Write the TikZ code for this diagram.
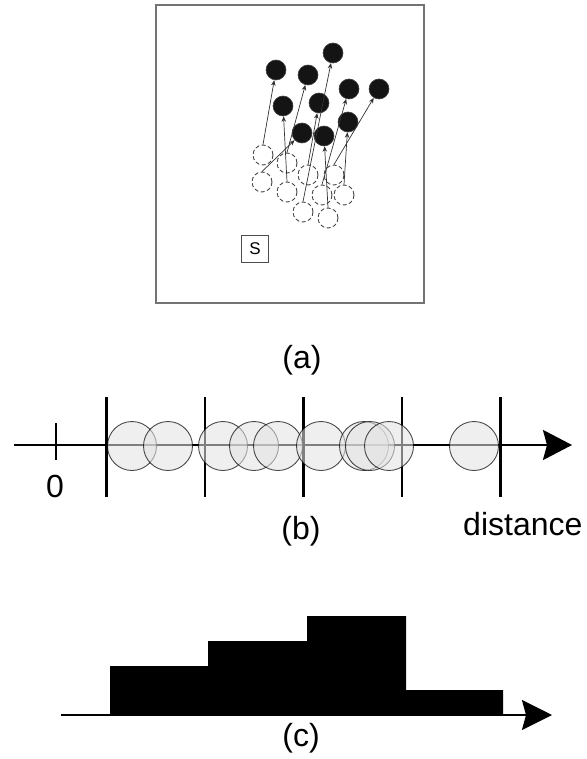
\documentclass[tikz,border=0pt]{standalone}
\usepackage{fontspec}
\setmainfont{Liberation Sans}
\usetikzlibrary{arrows.meta}
\begin{document}
\begin{tikzpicture}[x=1pt,y=-1pt,
  endpos/.style={circle,fill=black!92,draw=black!75,line width=0.6pt,minimum size=20pt,inner sep=0pt},
  startpos/.style={circle,draw=black!72,dash pattern=on 4pt off 2.5pt,line width=0.9pt,minimum size=20pt,inner sep=0pt},
  move/.style={-{Stealth[length=5.5pt,width=4.5pt]},line width=0.7pt,draw=black!80},
  bead/.style={circle,minimum size=49pt,inner sep=0pt,fill=black!11,fill opacity=0.56,draw=black,draw opacity=0.7,line width=0.9pt},
  axis/.style={line width=2.5pt,-{Stealth[length=29pt,width=30pt,inset=4pt]}},
  binline/.style={line width=2.5pt},
  lbl/.style={font=\fontsize{32}{38}\selectfont,inner sep=0pt,anchor=base},
]
\useasboundingbox (0,0) rectangle (586,759);

% ---------- (a) field of moving points ----------
\draw[black!55,line width=1.5pt] (156,5) rectangle (424,303);

\node[endpos] (e1) at (276,70) {};
\node[endpos] (e2) at (308,75) {};
\node[endpos] (e3) at (333,53) {};
\node[endpos] (e4) at (283,106) {};
\node[endpos] (e5) at (319,103) {};
\node[endpos] (e6) at (349,89) {};
\node[endpos] (e7) at (379,89) {};
\node[endpos] (e8) at (302,133) {};
\node[endpos] (e9) at (324,136) {};
\node[endpos] (e10) at (348,122) {};

\node[startpos] (sa) at (263,155) {};
\node[startpos] (sb) at (287,163) {};
\node[startpos] (sc) at (262,182) {};
\node[startpos] (sd) at (287,192) {};
\node[startpos] (se) at (308,175) {};
\node[startpos] (sf) at (334,175) {};
\node[startpos] (sg) at (322,195) {};
\node[startpos] (sh) at (344,195) {};
\node[startpos] (si) at (303,212) {};
\node[startpos] (sj) at (328,218) {};

\draw[move] (sa.north) -- (e1);
\draw[move] (sb.north) -- (e2);
\draw[move] (sc.north) -- (e8);
\draw[move] (sd.north) -- (e4);
\draw[move] (se.north) -- (e5);
\draw[move] (sf.north) -- (e7);
\draw[move] (sg.north) -- (e6);
\draw[move] (sh.north) -- (e10);
\draw[move] (si.north) -- (e3);
\draw[move] (sj.north) -- (e9);

\node[draw=black!70,line width=0.8pt,minimum size=27pt,inner sep=0pt,font=\fontsize{17}{20}\selectfont] (S) at (255,249) {S};

\node[lbl] (la) at (302,368) {(a)};

% ---------- (b) distances on an axis ----------
\coordinate (b0) at (14,445);
\coordinate (b1) at (572,445);
\draw[axis] (b0) -- (b1);

\coordinate (z0) at (56,423);
\coordinate (z1) at (56,460);
\draw[binline] (z0) -- (z1);
\node[lbl] (zero) at (55,497) {0};

\foreach \x [count=\i] in {106.5,205,303.5,402,500.5}{
  \coordinate (t\i a) at (\x,397);
  \coordinate (t\i b) at (\x,497);
  \draw[binline] (t\i a) -- (t\i b);
}

\foreach \x [count=\i] in {132,168,223,254,278,321,364,370,389,474}{
  \node[bead] (p\i) at (\x,446) {};
}

\node[lbl] (lb) at (301,539) {(b)};
\node[lbl,anchor=base west] (dist) at (463,535) {distance};

% ---------- (c) histogram ----------
\coordinate (h0) at (110,715);
\coordinate (h1) at (110,666);
\coordinate (h2) at (208,666);
\coordinate (h3) at (208,641);
\coordinate (h4) at (307,641);
\coordinate (h5) at (307,616);
\coordinate (h6) at (406,616);
\coordinate (h7) at (406,690);
\coordinate (h8) at (503,690);
\coordinate (h9) at (503,715);
\fill[black] (h0) -- (h1) -- (h2) -- (h3) -- (h4) -- (h5) -- (h6) -- (h7) -- (h8) -- (h9) -- cycle;

\coordinate (c0) at (61,715);
\coordinate (c1) at (552,715);
\draw[line width=2pt,-{Stealth[length=30pt,width=30pt,inset=4pt]}] (c0) -- (c1);

\node[lbl] (lc) at (301,746) {(c)};
\end{tikzpicture}
\end{document}
